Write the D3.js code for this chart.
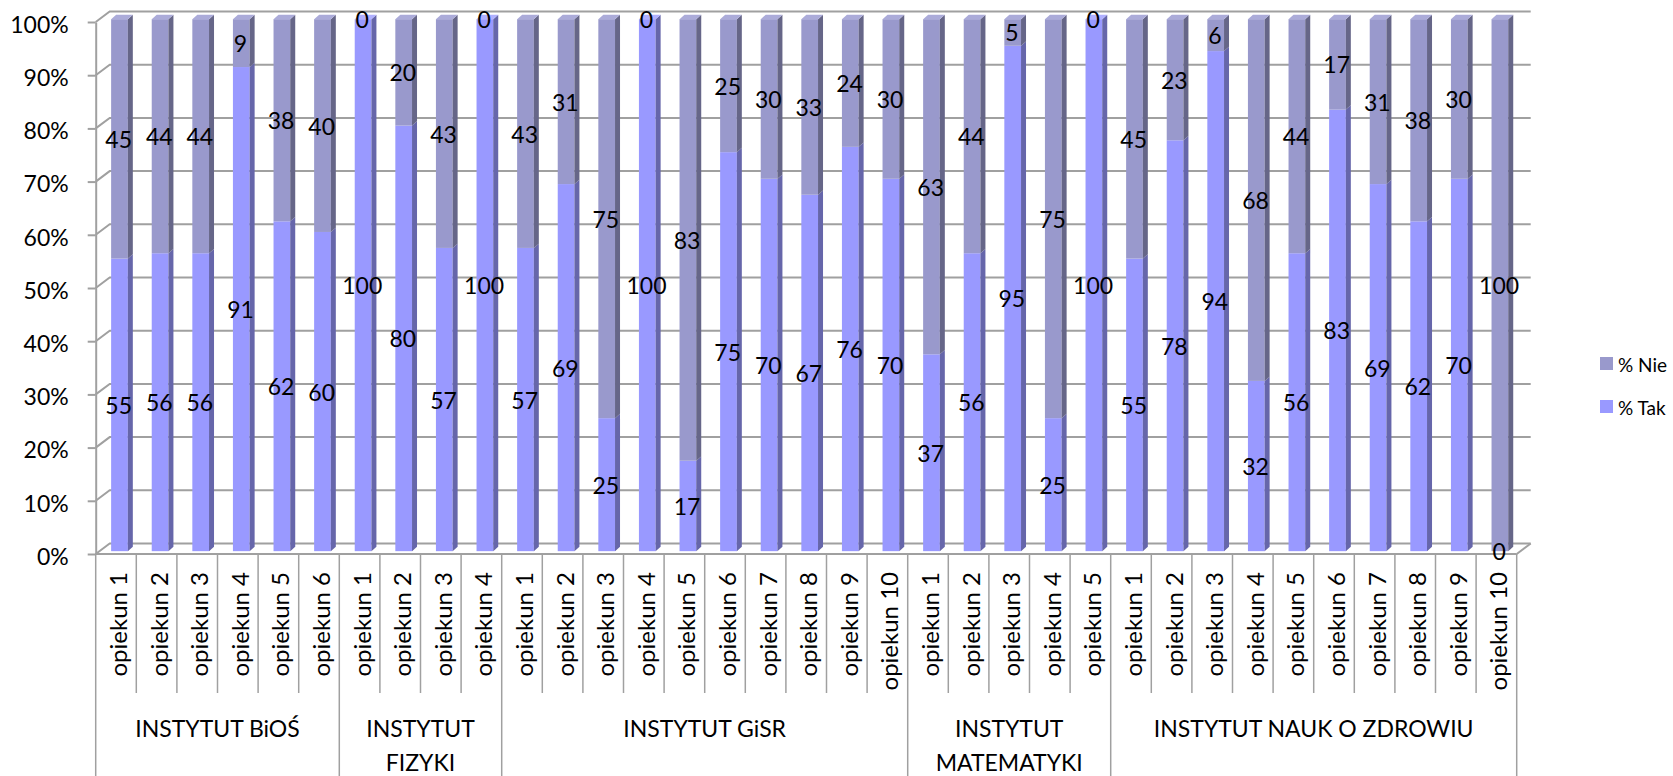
<!DOCTYPE html>
<html><head><meta charset="utf-8">
<script src="https://cdn.jsdelivr.net/npm/d3@7"></script>
<style>
body{margin:0;background:#fff}
svg{display:block}
text{font-family:Lato, "Open Sans", sans-serif;fill:#000}
</style>
</head><body>
<svg id="c" width="1673" height="776"></svg>
<script>
// ---- data ----
const groups = ["INSTYTUT BiOŚ", "INSTYTUT FIZYKI", "INSTYTUT GiSR", "INSTYTUT MATEMATYKI", "INSTYTUT NAUK O ZDROWIU"];
const groupSizes = [6, 4, 10, 5, 10];
const categories = [
  "opiekun 1","opiekun 2","opiekun 3","opiekun 4","opiekun 5","opiekun 6",
  "opiekun 1","opiekun 2","opiekun 3","opiekun 4",
  "opiekun 1","opiekun 2","opiekun 3","opiekun 4","opiekun 5","opiekun 6","opiekun 7","opiekun 8","opiekun 9","opiekun 10",
  "opiekun 1","opiekun 2","opiekun 3","opiekun 4","opiekun 5",
  "opiekun 1","opiekun 2","opiekun 3","opiekun 4","opiekun 5","opiekun 6","opiekun 7","opiekun 8","opiekun 9","opiekun 10"
];
const tak = [55,56,56,91,62,60, 100,80,57,100, 57,69,25,100,17,75,70,67,76,70, 37,56,95,25,100, 55,78,94,32,56,83,69,62,70,0];
const nie = [45,44,44,9,38,40, 0,20,43,0, 43,31,75,0,83,25,30,33,24,30, 63,44,5,75,0, 45,23,6,68,44,17,31,38,30,100];
const seriesNames = ["% Tak", "% Nie"];
const yTicks = [0,0.1,0.2,0.3,0.4,0.5,0.6,0.7,0.8,0.9,1];

// ---- layout ----
const svg = d3.select("#c");
const X0 = 95.7, X1 = 1516.7, Y0 = 554, Y100 = 22;
const DX = 14, DY = -10.5;           // depth of the 3D box
const F = 0.27;                       // bar front position within depth
const offX = DX * F, offY = DY * F;
const barW = 16.7, sx = 5, sy = -4.3; // bar width and bar depth
const gridCol = "#a0a0a0";
const colors = {
  tak: {front: "#9999ff", side: "#6666aa", top: "#b0b0ff"},
  nie: {front: "#9999cc", side: "#666688", top: "#ababd9"}
};

const idx = d3.range(categories.length);
const x = d3.scaleBand().domain(idx).range([X0, X1]).padding(0);
const y = d3.scaleLinear().domain([0, 1]).range([Y0, Y100]);

// ---- walls / gridlines ----
const grid = svg.append("g").attr("fill", "none").attr("stroke", gridCol).attr("stroke-width", 2);
yTicks.forEach(t => {
  grid.append("path").attr("d", `M${X0},${y(t)}L${X0 + DX},${y(t) + DY}L${X1 + DX},${y(t) + DY}`);
});
// floor right edge
grid.append("path").attr("d", `M${X1},${y(0)}L${X1 + DX},${y(0) + DY}`);

// ---- bars ----
const rows = idx.map(i => ({tak: tak[i], nie: nie[i]}));
const stack = d3.stack().keys(["tak", "nie"]).offset(d3.stackOffsetExpand)(rows);
const barsG = svg.append("g");
const labels = [];
idx.forEach(i => {
  const left = x(i) + (x.bandwidth() - barW) / 2 - 0.3 + offX;
  let topKey = null, topY = null;
  stack.forEach(s => {
    const d = s[i];
    const c = colors[s.key];
    const yb = y(d[0]) + offY, yt = y(d[1]) + offY;
    const val = s.key === "tak" ? tak[i] : nie[i];
    labels.push({x: left + barW / 2 - 0.8, y: (yb + yt) / 2, v: val});
    if (d[1] - d[0] <= 0) return;
    barsG.append("rect").attr("x", left).attr("y", yt).attr("width", barW).attr("height", yb - yt)
      .attr("fill", c.front);
    barsG.append("path")
      .attr("d", `M${left + barW},${yt}L${left + barW + sx},${yt + sy}L${left + barW + sx},${yb + sy}L${left + barW},${yb}Z`)
      .attr("fill", c.side);
    topKey = s.key; topY = yt;
  });
  if (topKey) {
    barsG.append("path")
      .attr("d", `M${left},${topY}L${left + sx},${topY + sy}L${left + barW + sx},${topY + sy}L${left + barW},${topY}Z`)
      .attr("fill", colors[topKey].top);
  }
});

// ---- y axis ----
const yAxis = d3.axisLeft(y).tickValues(yTicks).tickFormat(d3.format(".0%")).tickSize(8).tickSizeOuter(0).tickPadding(19);
const ya = svg.append("g").attr("transform", `translate(${X0},0)`).call(yAxis);
ya.select(".domain").attr("stroke", gridCol).attr("stroke-width", 2);
ya.selectAll(".tick line").attr("stroke", gridCol).attr("stroke-width", 2);
ya.selectAll(".tick text").attr("font-family", "Lato, sans-serif").attr("font-size", 23).attr("dy", "0.45em").attr("fill", "#000");

// ---- category axis ----
const cat = svg.append("g").attr("stroke", gridCol).attr("fill", "none");
cat.append("line").attr("x1", X0).attr("x2", X1).attr("y1", Y0).attr("y2", Y0).attr("stroke-width", 2);
const groupStarts = [];
let acc = 0;
groupSizes.forEach(n => { groupStarts.push(acc); acc += n; });
const isGroupEdge = new Set([...groupStarts, categories.length]);
d3.range(categories.length + 1).forEach(k => {
  const xx = k < categories.length ? x(k) : X1;
  cat.append("line").attr("x1", xx).attr("x2", xx).attr("y1", Y0)
    .attr("y2", isGroupEdge.has(k) ? 776 : 693).attr("stroke-width", 1.5);
});
svg.append("g").selectAll("text").data(idx).join("text")
  .attr("transform", i => `translate(${x(i) + x.bandwidth() / 2 + 1.5},572) rotate(-90)`)
  .attr("text-anchor", "end").attr("dominant-baseline", "central")
  .attr("font-size", 24).text(i => categories[i]);

// group labels (wrapped to group width)
const gl = svg.append("g");
groups.forEach((g, gi) => {
  const s = groupStarts[gi], e = s + groupSizes[gi];
  const xs = x(s), xe = e < categories.length ? x(e) : X1;
  const cx = (xs + xe) / 2, maxW = xe - xs - 12;
  const t = gl.append("text").attr("x", cx).attr("text-anchor", "middle").attr("font-size", 23);
  const words = g.split(" ");
  const lines = [];
  let cur = [];
  words.forEach(w => {
    const trial = cur.concat([w]).join(" ");
    t.text(trial);
    if (t.node().getComputedTextLength() > maxW && cur.length) { lines.push(cur.join(" ")); cur = [w]; }
    else cur.push(w);
  });
  lines.push(cur.join(" "));
  t.text(null);
  lines.forEach((ln, li) => {
    t.append("tspan").attr("x", cx).attr("y", 728 + li * 33.5).attr("dominant-baseline", "central").text(ln);
  });
});

// ---- data labels ----
svg.append("g").selectAll("text").data(labels).join("text")
  .attr("x", d => d.x).attr("y", d => d.y).attr("text-anchor", "middle").attr("dominant-baseline", "central")
  .attr("font-size", 23).text(d => d.v);

// ---- legend ----
const legend = svg.append("g");
[["nie", "% Nie", 357], ["tak", "% Tak", 400]].forEach(([k, name, yy]) => {
  legend.append("rect").attr("x", 1600).attr("y", yy).attr("width", 13).attr("height", 13).attr("fill", colors[k].front);
  legend.append("text").attr("x", 1618).attr("y", yy + 7).attr("dominant-baseline", "central").attr("font-size", 19).text(name);
});
</script>
</body></html>
